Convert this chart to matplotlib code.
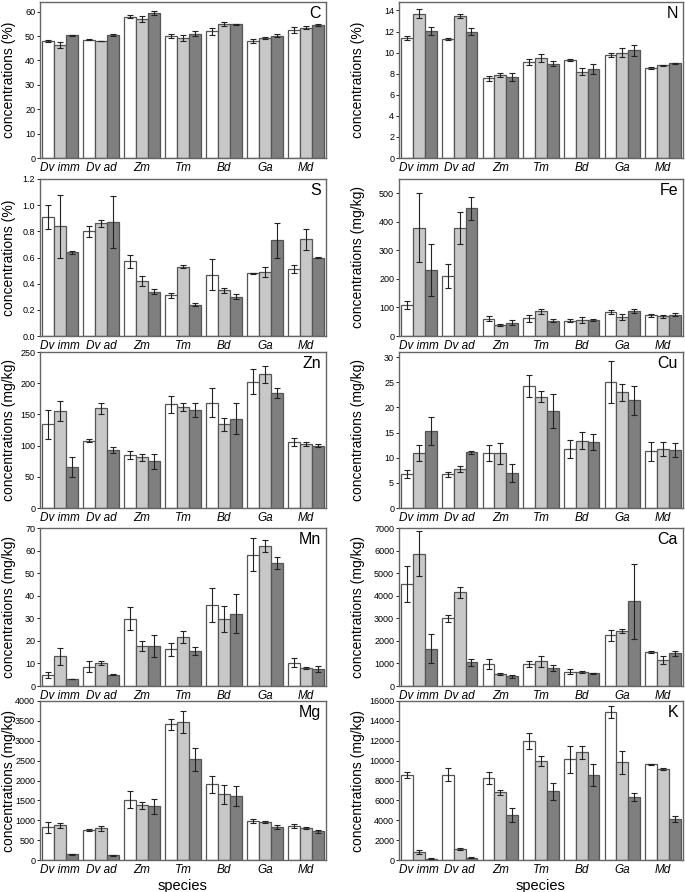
import numpy as np
import matplotlib.pyplot as plt

plt.rcParams.update({"font.family": ["Liberation Sans", "DejaVu Sans"]})

species = ["Dv imm", "Dv ad", "Zm", "Tm", "Bd", "Ga", "Md"]

# mean values per species: (white, light grey, dark grey) bars; errors likewise
C_mean = [[48.0, 46.2, 50.4], [48.6, 48.0, 50.5], [58.0, 56.9, 59.5], [50.0, 49.3, 51.0],
          [51.9, 54.9, 54.8], [48.0, 49.3, 50.2], [52.5, 53.5, 54.5]]
C_err = [[0.6, 1.2, 0.2], [0.1, 0.1, 0.3], [0.5, 1.3, 0.8], [0.9, 1.3, 1.1],
         [1.3, 0.9, 0.3], [1.0, 0.5, 0.7], [1.2, 0.6, 0.5]]

N_mean = [[11.4, 13.7, 12.05], [11.3, 13.5, 12.0], [7.55, 7.87, 7.7], [9.1, 9.5, 8.95],
          [9.3, 8.2, 8.45], [9.8, 10.0, 10.2], [8.5, 8.8, 9.0]]
N_err = [[0.2, 0.45, 0.35], [0.1, 0.2, 0.3], [0.25, 0.2, 0.35], [0.25, 0.35, 0.25],
         [0.1, 0.35, 0.5], [0.2, 0.45, 0.55], [0.1, 0.05, 0.05]]

S_mean = [[0.91, 0.84, 0.64], [0.80, 0.86, 0.87], [0.57, 0.42, 0.34], [0.31, 0.53, 0.24],
          [0.47, 0.35, 0.30], [0.48, 0.49, 0.73], [0.51, 0.74, 0.60]]
S_err = [[0.09, 0.24, 0.01], [0.04, 0.03, 0.20], [0.05, 0.04, 0.02], [0.02, 0.01, 0.01],
         [0.12, 0.02, 0.02], [0.005, 0.04, 0.13], [0.03, 0.08, 0.005]]

Fe_mean = [[108, 380, 232], [209, 378, 448], [61, 39, 47], [62, 86, 53],
           [54, 56, 56], [84, 66, 88], [72, 69, 75]]
Fe_err = [[15, 120, 92], [42, 57, 40], [10, 4, 10], [12, 8, 5],
          [5, 9, 4], [8, 10, 8], [6, 5, 5]]

Zn_mean = [[134, 156, 65], [108, 160, 93], [85, 81, 75], [166, 162, 157],
           [169, 134, 143], [202, 214, 185], [106, 102, 100]]
Zn_err = [[23, 16, 16], [2, 9, 5], [6, 5, 12], [14, 7, 11],
          [23, 10, 25], [20, 13, 8], [6, 3, 3]]

Cu_mean = [[6.8, 10.9, 15.3], [6.7, 7.8, 11.1], [10.9, 10.9, 7.0], [24.3, 22.1, 19.3],
           [11.8, 13.4, 13.1], [25.0, 23.0, 21.4], [11.3, 11.8, 11.5]]
Cu_err = [[0.8, 1.6, 2.7], [0.5, 0.6, 0.3], [1.6, 2.1, 1.8], [2.2, 1.1, 3.4],
          [1.8, 1.7, 1.6], [4.2, 1.7, 2.9], [1.9, 1.4, 1.4]]

Mn_mean = [[5.0, 13.2, 3.1], [8.6, 10.2, 5.0], [29.9, 17.7, 17.7], [16.3, 21.8, 15.5],
           [36.0, 29.6, 32.0], [58.2, 62.0, 54.5], [10.3, 8.0, 7.5]]
Mn_err = [[1.3, 3.8, 0.2], [2.3, 1.0, 0.2], [5.3, 2.3, 5.0], [2.8, 2.6, 1.8],
          [7.5, 5.7, 8.6], [7.2, 2.5, 2.8], [2.0, 0.6, 1.3]]

Ca_mean = [[4500, 5870, 1650], [3000, 4150, 1050], [970, 540, 430], [970, 1100, 800],
           [640, 620, 560], [2250, 2450, 3750], [1500, 1170, 1450]]
Ca_err = [[800, 1000, 650], [150, 250, 150], [220, 50, 60], [120, 250, 150],
          [130, 60, 30], [250, 80, 1650], [50, 180, 100]]

Mg_mean = [[820, 870, 140], [750, 800, 120], [1520, 1380, 1350], [3410, 3470, 2540],
           [1900, 1650, 1610], [970, 960, 830], [850, 800, 720]]
Mg_err = [[130, 60, 10], [20, 60, 15], [220, 90, 190], [140, 280, 290],
          [210, 230, 240], [50, 30, 50], [50, 20, 40]]

K_mean = [[8600, 850, 150], [8600, 1100, 250], [8250, 6800, 4500], [11950, 10000, 6900],
          [10150, 10850, 8550], [14900, 9850, 6300], [9650, 9200, 4150]]
K_err = [[300, 200, 50], [700, 100, 30], [600, 250, 700], [800, 500, 850],
         [1350, 650, 1100], [600, 1150, 400], [50, 100, 300]]

panels = [
    # name, mean, err, ylim, ticks, ylabel unit, column, row
    ("C", C_mean, C_err, 64, np.arange(0, 61, 10), "%", 0, 0),
    ("N", N_mean, N_err, 14.8, np.arange(0, 15, 2), "%", 1, 0),
    ("S", S_mean, S_err, 1.2, np.arange(0, 1.21, 0.2), "%", 0, 1),
    ("Fe", Fe_mean, Fe_err, 550, np.arange(0, 501, 100), "mg/kg", 1, 1),
    ("Zn", Zn_mean, Zn_err, 250, np.arange(0, 251, 50), "mg/kg", 0, 2),
    ("Cu", Cu_mean, Cu_err, 31, np.arange(0, 31, 5), "mg/kg", 1, 2),
    ("Mn", Mn_mean, Mn_err, 70, np.arange(0, 71, 10), "mg/kg", 0, 3),
    ("Ca", Ca_mean, Ca_err, 7000, np.arange(0, 7001, 1000), "mg/kg", 1, 3),
    ("Mg", Mg_mean, Mg_err, 4000, np.arange(0, 4001, 500), "mg/kg", 0, 4),
    ("K", K_mean, K_err, 16000, np.arange(0, 16001, 2000), "mg/kg", 1, 4),
]

colors = ["white", "#c8c8c8", "#7f7f7f"]
W, H = 685, 892
col_x = [(40, 326), (399, 683)]
label_right = [16, 365]          # right edge of the rotated y label, px
row_y = [(2, 158), (179, 336), (352, 508), (528, 686), (701, 860)]

fig = plt.figure(figsize=(W / 100, H / 100), dpi=100)

x = np.arange(len(species))
bw = 0.29
for name, mean, err, ymax, ticks, unit, col, row in panels:
    x0, x1 = col_x[col]
    y0, y1 = row_y[row]
    ax = fig.add_axes([x0 / W, 1 - y1 / H, (x1 - x0) / W, (y1 - y0) / H])
    m = np.array(mean)
    e = np.array(err)
    for k in range(3):
        ax.bar(x + (k - 1) * bw, m[:, k], bw, color=colors[k], edgecolor="#555555",
               linewidth=0.9, zorder=2)
        ax.errorbar(x + (k - 1) * bw, m[:, k], yerr=e[:, k], fmt="none", ecolor="#222222",
                    elinewidth=0.8, capsize=2.2, capthick=0.8, zorder=3)
    ax.set_xlim(-0.49, len(species) - 0.51)
    ax.set_ylim(0, ymax)
    ax.set_yticks(ticks)
    if name == "S":
        ax.set_yticklabels([f"{t:.1f}" for t in ticks])
    ax.tick_params(axis="y", labelsize=6.5, length=2, width=0.6, pad=1.5)
    ax.set_xticks(x)
    ax.set_xticklabels(species, fontsize=8.5, style="italic")
    ax.tick_params(axis="x", length=0, pad=3)
    for s in ax.spines.values():
        s.set_color("#666666")
        s.set_linewidth(1.0)
    ax.set_ylabel(f"concentrations ({unit})", fontsize=10)
    ax.yaxis.set_label_coords(-(x0 - label_right[col]) / (x1 - x0), 0.5)
    ax.text(1 - 5 / (x1 - x0), 1 - 4 / (y1 - y0), name, transform=ax.transAxes,
            ha="right", va="top", fontsize=11.5)
    if row == 4:
        ax.set_xlabel("species", fontsize=10.5, labelpad=2)

fig.savefig("out.png", dpi=100)
